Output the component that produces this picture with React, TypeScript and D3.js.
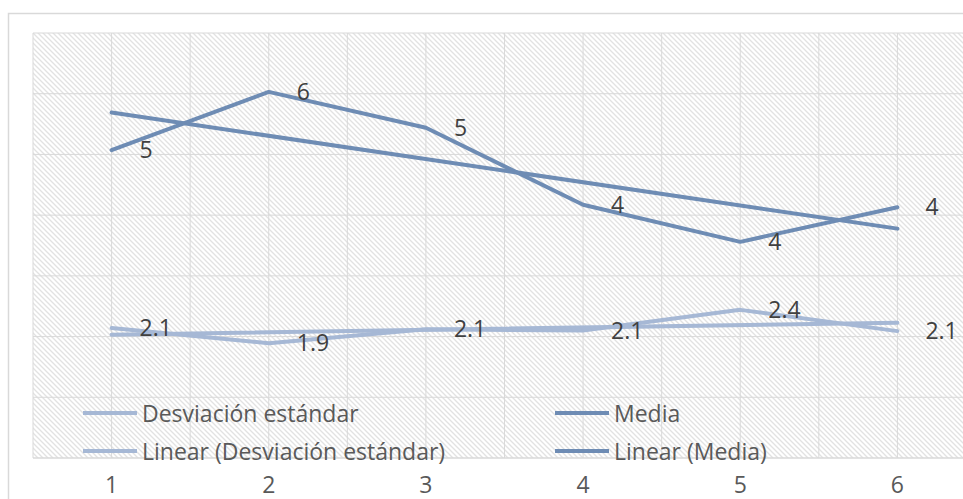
import React from "react";
import * as d3 from "d3";

const categories = [1, 2, 3, 4, 5, 6];
const mediaValues = [5.07, 6.03, 5.44, 4.17, 3.56, 4.13];
const desvValues = [2.14, 1.89, 2.12, 2.1, 2.44, 2.09];
const yTicks = [0, 1, 2, 3, 4, 5, 6, 7];
const seriesNames = ["Desviación estándar", "Media", "Linear (Desviación estándar)", "Linear (Media)"];

const W = 963;
const H = 499;
const plot = { left: 33, right: 976, top: 33, bottom: 458 };
const FONT = "'Open Sans', sans-serif";
const C_MEDIA = "#6e8cb4";
const C_DESV = "#a6b8d5";
const GRID = "#d9d9d9";
const TEXT = "#404040";

function regression(xs: number[], ys: number[]) {
  const mx = d3.mean(xs)!;
  const my = d3.mean(ys)!;
  let sxy = 0, sxx = 0;
  xs.forEach((x, i) => { sxy += (x - mx) * (ys[i] - my); sxx += (x - mx) * (x - mx); });
  const b = sxy / sxx;
  const a = my - b * mx;
  return (x: number) => a + b * x;
}

export default function App() {
  const x = d3.scalePoint<number>().domain(categories).range([plot.left, plot.right]).padding(0.5);
  const xg = d3.scaleLinear().domain([0.5, 6.5]).range([plot.left, plot.right]);
  const y = d3.scaleLinear().domain([0, 7]).range([plot.bottom, plot.top]);
  const line = d3.line<[number, number]>().x(d => x(d[0])!).y(d => y(d[1]));
  const media = categories.map((c, i) => [c, mediaValues[i]] as [number, number]);
  const desv = categories.map((c, i) => [c, desvValues[i]] as [number, number]);
  const rm = regression(categories, mediaValues);
  const rd = regression(categories, desvValues);
  const tm: [number, number][] = [[1, rm(1)], [6, rm(6)]];
  const td: [number, number][] = [[1, rd(1)], [6, rd(6)]];
  const vGrid = d3.range(0.5, 6.51, 0.5);
  const fmtM = d3.format(".0f");
  const fmtD = d3.format(".1f");

  const legend = [
    { name: seriesNames[0], color: C_DESV, lx: 83, ly: 413 },
    { name: seriesNames[1], color: C_MEDIA, lx: 555, ly: 413 },
    { name: seriesNames[2], color: C_DESV, lx: 83, ly: 451 },
    { name: seriesNames[3], color: C_MEDIA, lx: 555, ly: 451 },
  ];

  return (
    <svg width={W} height={H} style={{ position: "absolute", left: 0, top: 0, background: "#fff" }} fontFamily={FONT}>
      <defs>
        <pattern id="hatch" width={5} height={5} patternUnits="userSpaceOnUse">
          <rect width={5} height={5} fill="#fff" />
          <path d="M-1,-1 L6,6 M-1,4 L1,6 M4,-1 L6,1" stroke="#e2e2e2" strokeWidth={1.3} />
        </pattern>
      </defs>
      <rect x={8.5} y={13.5} width={1000} height={600} fill="#fff" stroke={GRID} strokeWidth={1.5} />
      <rect x={plot.left} y={plot.top} width={plot.right - plot.left} height={plot.bottom - plot.top} fill="url(#hatch)" />
      {yTicks.map(t => (
        <line key={"h" + t} x1={plot.left} x2={plot.right} y1={y(t)} y2={y(t)} stroke={GRID} strokeWidth={t === 0 ? 1.5 : 1} />
      ))}
      {vGrid.map(v => (
        <line key={"v" + v} x1={xg(v)} x2={xg(v)} y1={plot.top} y2={plot.bottom} stroke={GRID} strokeWidth={1} />
      ))}
      <g fill="none" strokeWidth={4} strokeLinejoin="round" strokeLinecap="round">
        <path d={line(desv)!} stroke={C_DESV} />
        <path d={line(media)!} stroke={C_MEDIA} />
        <path d={line(td)!} stroke={C_DESV} />
        <path d={line(tm)!} stroke={C_MEDIA} />
      </g>
      <g fontSize={23} fill={TEXT}>
        {media.map(d => (
          <text key={"lm" + d[0]} x={x(d[0])! + 28} y={y(d[1]) + 8}>{fmtM(d[1])}</text>
        ))}
        {desv.map(d => (
          <text key={"ld" + d[0]} x={x(d[0])! + 28} y={y(d[1]) + 8}>{fmtD(d[1])}</text>
        ))}
      </g>
      <g fontSize={23} fill="#595959">
        {legend.map(l => (
          <g key={l.name}>
            <line x1={l.lx} x2={l.lx + 54} y1={l.ly} y2={l.ly} stroke={l.color} strokeWidth={4} />
            <text x={l.lx + 59} y={l.ly + 9}>{l.name}</text>
          </g>
        ))}
      </g>
      <g fontSize={23} fill="#595959" textAnchor="middle">
        {categories.map(c => (
          <text key={"x" + c} x={x(c)!} y={493}>{c}</text>
        ))}
      </g>
    </svg>
  );
}
